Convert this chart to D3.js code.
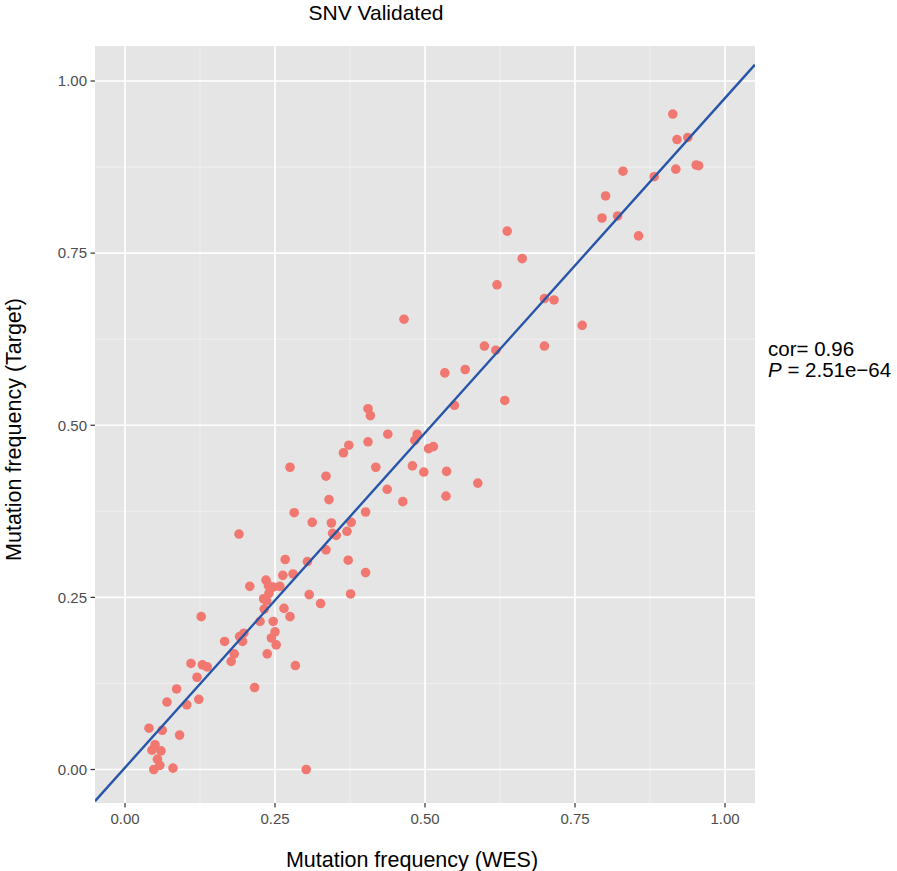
<!DOCTYPE html>
<html>
<head>
<meta charset="utf-8">
<script src="https://cdn.jsdelivr.net/npm/d3@7"></script>
<style>
  body { margin: 0; background: #fff; }
  text { font-family: "Liberation Sans", Arial, Helvetica, sans-serif; }
  .tick-label { fill: #4d4d4d; font-size: 15px; }
  .axis-title { fill: #000; font-size: 21.5px; }
</style>
</head>
<body>
<svg width="897" height="871"></svg>
<script>
  // mutation frequencies (WES vs Target)
  const wes = [
    0.913, 0.920, 0.938, 0.830, 0.882, 0.918, 0.952, 0.956, 0.801, 0.795,
    0.821, 0.856, 0.637, 0.662, 0.620, 0.699, 0.715, 0.762, 0.599, 0.618,
    0.699, 0.465, 0.533, 0.567, 0.549, 0.633,
    0.405, 0.409, 0.438, 0.487, 0.483, 0.405, 0.373, 0.364, 0.506, 0.514,
    0.275, 0.335, 0.418, 0.479, 0.498, 0.536, 0.588, 0.437, 0.463, 0.535,
    0.340, 0.282, 0.401, 0.312, 0.344, 0.377, 0.346, 0.352, 0.370, 0.190,
    0.335, 0.267, 0.304, 0.372, 0.263, 0.280, 0.401, 0.307, 0.376, 0.326,
    0.208, 0.235, 0.239, 0.247, 0.258, 0.240, 0.231, 0.236, 0.232, 0.265,
    0.275, 0.127, 0.225, 0.247, 0.250, 0.244, 0.252, 0.198, 0.191, 0.196,
    0.166, 0.182, 0.177, 0.237, 0.284, 0.216, 0.302,
    0.110, 0.129, 0.137, 0.120, 0.086, 0.070, 0.103, 0.123, 0.040, 0.062,
    0.091, 0.050, 0.045, 0.060, 0.054, 0.058, 0.048, 0.080
  ];
  const target = [
    0.952, 0.915, 0.918, 0.869, 0.861, 0.872, 0.878, 0.877, 0.833, 0.801,
    0.804, 0.775, 0.782, 0.742, 0.704, 0.684, 0.682, 0.645, 0.615, 0.609,
    0.615, 0.654, 0.576, 0.581, 0.529, 0.536,
    0.524, 0.514, 0.487, 0.487, 0.478, 0.476, 0.471, 0.460, 0.466, 0.469,
    0.439, 0.426, 0.439, 0.441, 0.432, 0.433, 0.416, 0.407, 0.389, 0.397,
    0.392, 0.373, 0.374, 0.359, 0.358, 0.359, 0.343, 0.340, 0.346, 0.342,
    0.319, 0.305, 0.302, 0.304, 0.282, 0.284, 0.286, 0.254, 0.255, 0.241,
    0.266, 0.275, 0.267, 0.265, 0.266, 0.256, 0.248, 0.245, 0.233, 0.234,
    0.222, 0.222, 0.215, 0.215, 0.200, 0.191, 0.181, 0.198, 0.193, 0.186,
    0.186, 0.168, 0.157, 0.168, 0.151, 0.119, 0.000,
    0.154, 0.152, 0.149, 0.134, 0.117, 0.098, 0.094, 0.102, 0.060, 0.057,
    0.050, 0.036, 0.028, 0.027, 0.015, 0.006, 0.000, 0.002
  ];
  const ticks = [0, 0.25, 0.5, 0.75, 1];
  const minorTicks = [0.125, 0.375, 0.625, 0.875];
  const statLines = ['cor= 0.96', '= 2.51e\u221264'];

  const points = wes.map((w, i) => ({ x: w, y: target[i] }));

  const svg = d3.select('svg');
  const panel = { left: 95, right: 755, top: 46, bottom: 803 };

  const x = d3.scaleLinear().domain([0, 1]).range([125, 725]);
  const y = d3.scaleLinear().domain([0, 1]).range([769.5, 81]);

  // least squares fit like geom_smooth(method = "lm")
  const mx = d3.mean(points, d => d.x), my = d3.mean(points, d => d.y);
  const slope = d3.sum(points, d => (d.x - mx) * (d.y - my)) /
                d3.sum(points, d => (d.x - mx) * (d.x - mx));
  const intercept = my - slope * mx;

  svg.append('clipPath').attr('id', 'clip')
    .append('rect')
      .attr('x', panel.left).attr('y', panel.top)
      .attr('width', panel.right - panel.left)
      .attr('height', panel.bottom - panel.top);

  svg.append('rect')
    .attr('x', panel.left).attr('y', panel.top)
    .attr('width', panel.right - panel.left)
    .attr('height', panel.bottom - panel.top)
    .attr('fill', '#e5e5e5');

  const grid = svg.append('g');
  grid.selectAll('.vminor').data(minorTicks).enter().append('line')
    .attr('x1', d => x(d)).attr('x2', d => x(d))
    .attr('y1', panel.top).attr('y2', panel.bottom)
    .attr('stroke', '#f2f2f2').attr('stroke-width', 0.8);
  grid.selectAll('.hminor').data(minorTicks).enter().append('line')
    .attr('y1', d => y(d)).attr('y2', d => y(d))
    .attr('x1', panel.left).attr('x2', panel.right)
    .attr('stroke', '#f2f2f2').attr('stroke-width', 0.8);
  grid.selectAll('.vmajor').data(ticks).enter().append('line')
    .attr('x1', d => x(d)).attr('x2', d => x(d))
    .attr('y1', panel.top).attr('y2', panel.bottom)
    .attr('stroke', '#fff').attr('stroke-width', 1.7);
  grid.selectAll('.hmajor').data(ticks).enter().append('line')
    .attr('y1', d => y(d)).attr('y2', d => y(d))
    .attr('x1', panel.left).attr('x2', panel.right)
    .attr('stroke', '#fff').attr('stroke-width', 1.7);

  const plot = svg.append('g').attr('clip-path', 'url(#clip)');

  plot.selectAll('circle').data(points)
    .enter().append('circle')
      .attr('cx', d => x(d.x))
      .attr('cy', d => y(d.y))
      .attr('r', 4.8)
      .attr('fill', '#f17870');

  const x0 = x.invert(panel.left), x1 = x.invert(panel.right);
  plot.append('line')
    .attr('x1', x(x0)).attr('y1', y(intercept + slope * x0))
    .attr('x2', x(x1)).attr('y2', y(intercept + slope * x1))
    .attr('stroke', '#2756a8')
    .attr('stroke-width', 2.4);

  // axes, ggplot style: short dark ticks outside the panel
  const axisX = svg.append('g');
  axisX.selectAll('line').data(ticks).enter().append('line')
    .attr('x1', d => x(d)).attr('x2', d => x(d))
    .attr('y1', panel.bottom).attr('y2', panel.bottom + 4.5)
    .attr('stroke', '#333').attr('stroke-width', 1.2);
  axisX.selectAll('text').data(ticks).enter().append('text')
    .attr('class', 'tick-label')
    .attr('x', d => x(d)).attr('y', 823.5)
    .attr('text-anchor', 'middle')
    .text(d3.format('.2f'));

  const axisY = svg.append('g');
  axisY.selectAll('line').data(ticks).enter().append('line')
    .attr('y1', d => y(d)).attr('y2', d => y(d))
    .attr('x1', panel.left - 4.5).attr('x2', panel.left)
    .attr('stroke', '#333').attr('stroke-width', 1.2);
  axisY.selectAll('text').data(ticks).enter().append('text')
    .attr('class', 'tick-label')
    .attr('x', 87).attr('y', d => y(d))
    .attr('dy', '0.35em')
    .attr('text-anchor', 'end')
    .text(d3.format('.2f'));

  svg.append('text')
    .attr('class', 'axis-title')
    .attr('x', 412).attr('y', 867)
    .attr('text-anchor', 'middle')
    .text('Mutation frequency (WES)');

  svg.append('text')
    .attr('class', 'axis-title')
    .attr('transform', `translate(21,${(panel.top + panel.bottom) / 2 + 5}) rotate(-90)`)
    .attr('text-anchor', 'middle')
    .text('Mutation frequency (Target)');

  svg.append('text')
    .attr('x', 376).attr('y', 20)
    .attr('text-anchor', 'middle')
    .style('font-size', '21px')
    .text('SNV Validated');

  svg.append('text')
    .attr('x', 768).attr('y', 356)
    .style('font-size', '20.5px')
    .text(statLines[0]);

  const pLine = svg.append('text')
    .attr('x', 768).attr('y', 377)
    .style('font-size', '20.5px');
  pLine.append('tspan').style('font-style', 'italic').text('P');
  pLine.append('tspan').text(' ' + statLines[1]);
</script>
</body>
</html>
